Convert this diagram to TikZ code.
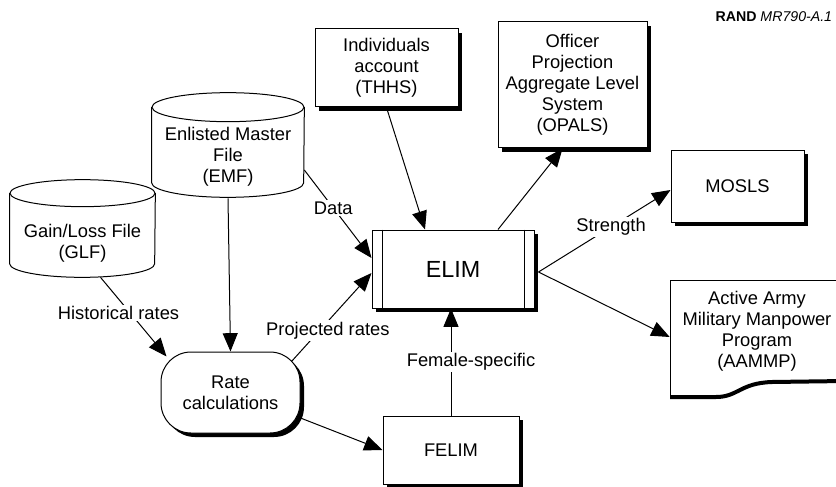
\documentclass[tikz,border=0pt]{standalone}
\usepackage{fontspec}
\setmainfont{Liberation Sans}
\usetikzlibrary{arrows.meta,positioning,shapes.geometric,shadows,calc}

\begin{document}
\begin{tikzpicture}[
  x=0.6pt,y=-0.6pt,
  every node/.style={font=\fontsize{11}{12.6}\selectfont},
  box/.style={draw,fill=white,align=center,line width=0.6pt,
              drop shadow={shadow xshift=2.4pt,shadow yshift=-2.4pt,opacity=1,fill=black}},
  store/.style={inner sep=0pt},
  lbl/.style={fill=white,inner sep=1pt},
  arr/.style={-{Triangle[length=11pt,width=9pt]},line width=0.6pt}
]
  \useasboundingbox (0,0) rectangle (836,487);
  \node[anchor=east,font=\fontsize{8.5}{10}\selectfont] (tag) at (838,17) {\textbf{RAND} \textit{MR790-A.1}};

  % data files
  \node[store,minimum width=91.2pt,minimum height=62.4pt,
        label={[align=center,yshift=-7.2pt]center:{Enlisted Master\\File\\(EMF)}}] (emf) at (228,145) {};
  \draw[line width=0.6pt] ([yshift=-8.7pt]emf.north) ellipse [x radius=45.6pt,y radius=8.7pt];
  \draw[line width=0.6pt] ([yshift=-8.7pt]emf.north west) -- ([yshift=8.7pt]emf.south west)
    arc[start angle=180,end angle=360,x radius=45.6pt,y radius=8.7pt] -- ([yshift=-8.7pt]emf.north east);
  \node[store,minimum width=87pt,minimum height=58.2pt,
        label={[align=center,yshift=-9pt]center:{Gain/Loss File\\(GLF)}}] (glf) at (82.5,228.5) {};
  \draw[line width=0.6pt] ([yshift=-8.1pt]glf.north) ellipse [x radius=43.5pt,y radius=8.1pt];
  \draw[line width=0.6pt] ([yshift=-8.1pt]glf.north west) -- ([yshift=8.1pt]glf.south west)
    arc[start angle=180,end angle=360,x radius=43.5pt,y radius=8.1pt] -- ([yshift=-8.1pt]glf.north east);

  \node[box,minimum width=85.8pt,minimum height=46.8pt] (thhs) at (386.5,68) {Individuals\\account\\(THHS)};
  \node[box,minimum width=89.4pt,minimum height=75.6pt] (opals) at (572.5,85) {Officer\\Projection\\Aggregate Level\\System\\(OPALS)};
  \node[box,minimum width=79.8pt,minimum height=43.2pt] (mosls) at (737.5,186) {MOSLS};
  \node[box,minimum width=97.2pt,minimum height=46.8pt,font=\fontsize{14}{16}\selectfont] (elim) at (453,269) {ELIM};
  \draw ([xshift=6.6pt]elim.north west) -- ([xshift=6.6pt]elim.south west);
  \draw ([xshift=-6pt]elim.north east) -- ([xshift=-6pt]elim.south east);
  \node[box,minimum width=81.6pt,minimum height=40.8pt] (felim) at (451,450) {FELIM};
  \node[box,rounded corners=18pt,minimum width=83.4pt,minimum height=48.6pt] (rate) at (230.5,392.5) {Rate\\calculations};

  % document shape, cut at the right edge
  \node[align=center,minimum width=104.4pt] (aammp) at (757,331) {Active Army\\Military Manpower\\Program\\(AAMMP)};
  \draw[line width=0.6pt] (845,280) -- (670,280) -- (670,397);
  \draw[line width=2.4pt] (670,397) -- (716,397) .. controls (738,397) and (740,383) .. (772,382) -- (845,381);

  \draw[arr] ([yshift=-0.6pt]emf.south) -- (rate.north);
  \draw[arr] ([xshift=10.8pt]glf.south) -- node[lbl,pos=0.45,xshift=-7pt]{Historical rates} ([shift={(3.6pt,-3pt)}]rate.north west);
  \draw[arr] ([yshift=-15pt]emf.east) -- node[lbl,pos=0.43]{Data} ([yshift=6.6pt]elim.west);
  \draw[arr] ([shift={(-5.4pt,-6pt)}]rate.north east) -- node[lbl,pos=0.35,xshift=5pt]{Projected rates} ([yshift=-2.4pt]elim.west);
  \draw[arr] (thhs.south) -- ([xshift=-16.8pt]elim.north);
  \draw[arr] ([xshift=27pt]elim.north) -- ([xshift=-6pt]opals.south);
  \draw[arr] ([xshift=2.4pt,yshift=-1.8pt]elim.east) -- node[lbl,pos=0.55]{Strength} ([yshift=-2.4pt]mosls.west);
  \draw[arr] ([xshift=2.4pt,yshift=-1.8pt]elim.east) -- ([yshift=-3.6pt]aammp.west);
  \draw[arr] ([yshift=-15.3pt]rate.east) -- (felim.west);
  \draw[arr] (felim.north) -- node[lbl,pos=0.5,xshift=12pt]{Female-specific} (felim.north |- elim.south);
\end{tikzpicture}
\end{document}
